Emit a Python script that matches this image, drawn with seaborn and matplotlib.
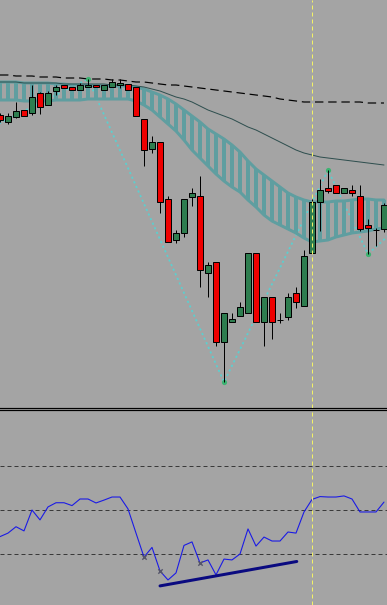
import numpy as np
import pandas as pd
import matplotlib
matplotlib.use("Agg")
import matplotlib.pyplot as plt
import seaborn as sns

# ---------------- data (price in points, RSI in %) ----------------
opens  = [293, 286, 291, 298, 295, 315, 303, 317, 323, 321, 318, 321, 323, 318, 321, 323, 324,
          321, 289, 259, 266, 209, 168, 175, 211, 212, 135, 146, 66, 86, 92, 95, 155, 86, 111,
          88, 91, 115, 102, 155, 206, 220, 223, 215, 218, 212, 183, 178, 179]
highs  = [295, 295, 306, 298, 323, 316, 317, 323, 323, 321, 325, 329, 323, 323, 329, 329, 324,
          321, 289, 272, 266, 212, 178, 209, 220, 232, 146, 146, 95, 95, 106, 155, 155, 111, 111,
          95, 115, 121, 158, 209, 229, 238, 223, 220, 223, 223, 189, 180, 205]
lows   = [286, 284, 290, 292, 293, 294, 303, 313, 320, 318, 318, 321, 321, 318, 321, 320, 318,
          292, 242, 255, 195, 166, 165, 171, 202, 121, 111, 62, 26, 86, 92, 95, 86, 62, 69,
          85, 88, 100, 102, 155, 177, 215, 215, 215, 212, 177, 154, 162, 176]
closes = [288, 292, 297, 292, 311, 301, 315, 321, 320, 318, 323, 323, 321, 323, 326, 325, 318,
          292, 258, 266, 206, 166, 175, 209, 215, 138, 143, 66, 95, 89, 101, 155, 86, 111, 86,
          88, 111, 106, 152, 206, 218, 217, 215, 220, 215, 179, 180, 178, 203]

span_a = [326, 326, 326, 325, 325, 325, 325, 324, 324, 323, 323, 323, 322, 322, 322, 322, 322,
          321, 319, 316, 313, 309, 304, 298, 292, 286, 279, 274, 269, 263, 256, 247, 239, 233,
          227, 221, 215, 211, 208, 206, 206, 206, 207, 207, 208, 209, 209, 208, 208]
span_b = [308, 308, 308, 307, 307, 307, 307, 308, 308, 308, 308, 309, 309, 309, 309, 309, 309,
          307, 303, 298, 291, 284, 277, 268, 258, 250, 242, 234, 227, 221, 216, 208, 201, 193,
          187, 183, 179, 175, 170, 166, 167, 168, 171, 173, 175, 176, 177, 179, 180]
ma_mid = [326, 326, 326, 325, 325, 325, 325, 325, 324, 324, 324, 324, 324, 324, 323, 323, 323,
          322, 321, 319, 317, 314, 311, 309, 306, 302, 298, 295, 292, 289, 285, 281, 278, 274,
          270, 266, 262, 258, 255, 253, 251, 250, 249, 248, 247, 246, 245, 244, 243]
ma_long = [333, 333, 332, 332, 332, 331, 331, 331, 330, 330, 330, 329, 329, 329, 328, 328, 327,
           326, 326, 325, 324, 323, 323, 322, 321, 320, 319, 318, 317, 316, 315, 314, 313, 312,
           311, 309, 308, 307, 306, 306, 306, 306, 306, 306, 306, 306, 305, 305, 305]

zz_bar   = [-1, 11, 28, 41, 46, 48.5]
zz_price = [281, 329, 26, 238, 154, 172]
zz_pivots = [1, 2, 3, 4]

rsi = [37.9, 39.5, 42.4, 40.5, 50.0, 45.5, 51.4, 53.3, 53.3, 52.0, 55.0, 55.0, 53.2, 54.5, 55.9,
       55.9, 50.5, 39.5, 28.6, 33.0, 22.3, 18.2, 21.4, 33.9, 35.5, 25.9, 27.3, 20.5, 27.7, 27.3,
       30.0, 41.4, 33.6, 37.7, 35.9, 35.9, 40.0, 39.5, 49.1, 54.8, 56.1, 55.9, 55.9, 56.4, 55.0,
       49.1, 49.1, 49.1, 53.6]
rsi_marks = [18, 20, 25]
rsi_levels = [70, 50, 30]
div_bar = [20, 37.1]
div_rsi = [15.5, 26.6]
cursor_bar = 39

# ---------------- style ----------------
BG = "#a4a4a4"
PX = 0.72  # one pixel in points at dpi 100
sns.set_theme(style="white")
plt.rcParams["font.family"] = ["DejaVu Sans"]

fig = plt.figure(figsize=(3.87, 6.05), dpi=100, facecolor=BG)
ax1 = fig.add_axes([0, 197 / 605, 1, 408 / 605])
ax2 = fig.add_axes([0, 0, 1, 195 / 605])

bars = np.arange(len(opens))
XMAX = 387 / 8

for ax in (ax1, ax2):
    ax.set_facecolor(BG)
    ax.set_xlim(0, XMAX)
    ax.set_xticks([])
    ax.set_yticks([])
    for s in ("left", "right", "top", "bottom"):
        ax.spines[s].set_visible(False)
ax1.set_ylim(0, 408)
ax2.set_ylim(6.82, 95.45)
ax1.spines["bottom"].set_visible(True)
ax1.spines["bottom"].set_color("black")
ax1.spines["bottom"].set_linewidth(1.2 * PX)
ax2.spines["top"].set_visible(True)
ax2.spines["top"].set_color("black")
ax2.spines["top"].set_linewidth(1.2 * PX)

# zigzag (drawn underneath cloud and candles)
df_zz = pd.DataFrame({"bar": zz_bar, "price": zz_price})
sns.lineplot(data=df_zz, x="bar", y="price", ax=ax1, color="#5ccfcf", linewidth=1.8 * PX,
             linestyle=(0, (1.2, 1.6)), zorder=0.8, sort=False)

# ---------------- cloud ----------------
cloud_c = "#5f9ea0"
ax1.vlines(bars, span_b, span_a, color=cloud_c, linewidth=4 * PX, zorder=1)
df_cloud = pd.DataFrame({"bar": bars, "a": span_a, "b": span_b})
sns.lineplot(data=df_cloud, x="bar", y="a", ax=ax1, color=cloud_c, linewidth=3 * PX, zorder=1)
sns.lineplot(data=df_cloud, x="bar", y="b", ax=ax1, color=cloud_c, linewidth=3 * PX, zorder=1)

# moving averages
df_ma = pd.DataFrame({"bar": bars, "mid": ma_mid, "long": ma_long})
sns.lineplot(data=df_ma, x="bar", y="mid", ax=ax1, color="#2f4f4f", linewidth=1 * PX, zorder=2)
l = sns.lineplot(data=df_ma, x="bar", y="long", ax=ax1, color="black", linewidth=1.2 * PX, zorder=2)
l.lines[-1].set_dashes((7, 4))

ax1.scatter([zz_bar[i] for i in zz_pivots], [zz_price[i] for i in zz_pivots],
            s=14, color="#3cb371", zorder=2, linewidths=0)

# ---------------- candles ----------------
for i in bars:
    o, h, lo, c = opens[i], highs[i], lows[i], closes[i]
    ax1.vlines(i, lo, h, color="black", linewidth=1 * PX, zorder=3)
    col = "#2e7d4f" if c >= o else "#ee0000"
    ax1.bar(i, abs(c - o), bottom=min(o, c), width=5.5 / 8, color=col,
            edgecolor="black", linewidth=1 * PX, zorder=4)

# ---------------- RSI panel ----------------
for lv in rsi_levels:
    ax2.axhline(lv, color="#3a3a3a", linewidth=1 * PX, dashes=(4, 3), zorder=1)

df_rsi = pd.DataFrame({"bar": bars, "rsi": rsi})
sns.lineplot(data=df_rsi, x="bar", y="rsi", ax=ax2, color="#1a1ae6", linewidth=1.1 * PX, zorder=3)
ax2.scatter(rsi_marks, [rsi[i] for i in rsi_marks], marker="x", s=10, color="#55556a",
            linewidths=1.0, zorder=4)
df_div = pd.DataFrame({"bar": div_bar, "rsi": div_rsi})
sns.lineplot(data=df_div, x="bar", y="rsi", ax=ax2, color="#0a0a80", linewidth=3 * PX, zorder=3)

# cursor line
for ax in (ax1, ax2):
    ax.axvline(cursor_bar, color="#f2f266", linewidth=1 * PX, dashes=(4, 3), zorder=5)
    ax.set_xlabel("")
    ax.set_ylabel("")

fig.savefig("out.png", dpi=100, facecolor=BG)
